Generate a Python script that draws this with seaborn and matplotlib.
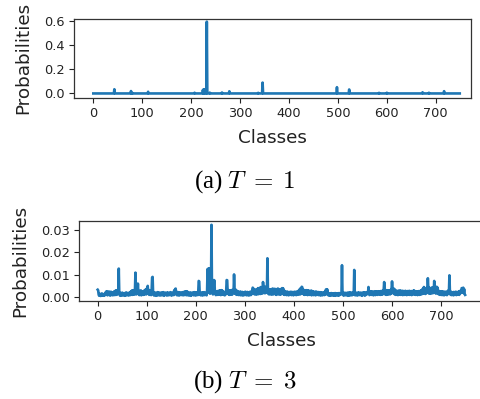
import numpy as np
import pandas as pd
import matplotlib
matplotlib.use("Agg")
import matplotlib.pyplot as plt
import seaborn as sns

# ---------------- data ----------------
n_classes = 750

# T = 1 : essentially zero everywhere except a few classes
t1_baseline = 0.0002
t1_peak_classes = [43, 77, 80, 112, 207, 224, 226, 228, 232, 238, 263, 278,
                   337, 346, 498, 523, 584, 600, 673, 686, 717]
t1_peak_values = [0.035, 0.02, 0.004, 0.014, 0.006, 0.03, 0.033, 0.035, 0.595,
                  0.007, 0.008, 0.018, 0.005, 0.09, 0.052, 0.033, 0.005, 0.006,
                  0.01, 0.006, 0.019]

# T = 3 : probabilities in units of 1e-4, class 0 .. 749
t3_probs_e4 = [
    33, 30, 12, 6, 15, 9, 5, 14, 8, 16, 7, 12, 10, 6, 15, 9, 18, 24, 11, 26, 8, 22, 12, 25, 9,
    20, 7, 24, 10, 14, 18, 8, 22, 11, 26, 9, 28, 13, 30, 10, 29, 16, 21, 127, 14, 8, 19, 6, 17, 10,
    20, 7, 15, 11, 18, 6, 16, 9, 21, 8, 14, 12, 19, 7, 17, 10, 22, 9, 26, 12, 30, 10, 28, 14, 31,
    11, 29, 109, 30, 12, 58, 25, 60, 14, 28, 9, 24, 12, 30, 8, 26, 13, 22, 10, 27, 11, 31, 15, 34, 12,
    38, 20, 50, 16, 32, 10, 28, 14, 30, 9, 26, 88, 90, 13, 21, 7, 18, 10, 20, 6, 17, 9, 22, 8, 19,
    11, 20, 7, 16, 10, 21, 8, 18, 12, 22, 6, 15, 9, 20, 11, 17, 7, 21, 10, 19, 8, 16, 12, 22, 9,
    18, 7, 20, 11, 16, 9, 30, 14, 36, 38, 12, 24, 8, 20, 10, 22, 7, 18, 11, 21, 9, 17, 12, 22, 8,
    19, 10, 25, 9, 23, 12, 26, 8, 24, 11, 20, 7, 18, 10, 21, 6, 17, 9, 20, 12, 19, 8, 22, 10, 18,
    7, 21, 11, 19, 9, 22, 72, 70, 12, 20, 8, 18, 10, 21, 7, 19, 11, 22, 9, 17, 12, 20, 8, 24, 125,
    20, 127, 28, 128, 15, 30, 24, 322, 18, 30, 12, 26, 76, 74, 14, 25, 9, 22, 11, 27, 10, 24, 13, 30, 12,
    28, 9, 31, 14, 29, 11, 26, 10, 20, 8, 22, 12, 30, 76, 75, 16, 31, 12, 28, 10, 30, 14, 27, 11, 32,
    13, 30, 20, 101, 35, 15, 34, 12, 30, 10, 26, 14, 24, 9, 22, 11, 25, 8, 21, 12, 23, 7, 20, 10, 22,
    9, 24, 11, 21, 8, 23, 12, 20, 7, 22, 10, 24, 9, 21, 13, 30, 42, 40, 15, 31, 12, 34, 14, 30, 11,
    36, 15, 40, 13, 38, 16, 42, 14, 45, 18, 43, 16, 67, 45, 20, 44, 17, 46, 22, 45, 19, 173, 36, 14, 33,
    12, 35, 15, 32, 11, 36, 14, 38, 12, 34, 16, 37, 13, 35, 10, 33, 15, 38, 12, 36, 14, 32, 11, 35, 13,
    38, 40, 16, 39, 12, 30, 10, 24, 11, 22, 9, 25, 12, 21, 8, 23, 10, 22, 13, 24, 9, 21, 11, 23, 8,
    22, 12, 24, 10, 21, 9, 25, 13, 22, 11, 30, 14, 36, 12, 40, 18, 46, 44, 15, 34, 12, 30, 10, 28, 13,
    31, 11, 27, 9, 30, 14, 28, 10, 26, 12, 29, 8, 27, 11, 25, 9, 24, 12, 22, 8, 25, 10, 21, 13, 23,
    9, 20, 12, 22, 7, 19, 10, 21, 8, 18, 11, 20, 9, 24, 12, 33, 35, 14, 34, 10, 18, 7, 16, 9, 17,
    6, 18, 10, 15, 8, 17, 7, 16, 9, 18, 6, 15, 10, 17, 8, 16, 7, 18, 9, 15, 11, 17, 20, 142, 18,
    9, 20, 7, 18, 11, 19, 8, 17, 10, 20, 6, 18, 9, 21, 7, 19, 12, 20, 8, 18, 10, 22, 14, 121, 16,
    8, 20, 11, 18, 7, 19, 10, 21, 9, 17, 12, 20, 8, 18, 6, 19, 11, 21, 9, 20, 7, 18, 10, 22, 13,
    20, 16, 45, 18, 9, 24, 11, 26, 10, 23, 12, 25, 8, 22, 13, 26, 9, 24, 11, 25, 10, 23, 14, 26, 12,
    24, 10, 27, 13, 25, 11, 30, 14, 32, 67, 30, 12, 29, 10, 31, 13, 28, 11, 30, 15, 27, 12, 32, 16, 35,
    70, 40, 18, 38, 14, 36, 12, 30, 10, 28, 13, 26, 9, 29, 11, 27, 14, 30, 10, 26, 12, 28, 9, 27, 13,
    25, 10, 28, 12, 26, 9, 27, 14, 24, 11, 28, 10, 25, 13, 27, 9, 26, 12, 28, 14, 30, 11, 24, 10, 26,
    13, 25, 9, 24, 12, 27, 10, 26, 14, 30, 12, 32, 15, 38, 16, 45, 20, 40, 14, 36, 18, 42, 20, 84, 40,
    16, 42, 18, 40, 15, 38, 20, 44, 17, 40, 22, 72, 45, 18, 44, 16, 46, 20, 42, 14, 28, 12, 25, 10, 24,
    13, 26, 9, 25, 11, 23, 8, 24, 12, 22, 10, 25, 9, 21, 14, 30, 20, 97, 22, 11, 24, 9, 22, 12, 20,
    8, 23, 10, 21, 13, 24, 9, 22, 11, 20, 14, 26, 10, 24, 16, 30, 20, 40, 38, 22, 42, 18, 36, 14, 10,
]

x_ticks = [0, 100, 200, 300, 400, 500, 600, 700]
t1_y_ticks = [0.0, 0.2, 0.4, 0.6]
t3_y_ticks = [0.00, 0.01, 0.02, 0.03]
captions = [r"(a) $T\;=\;1$", r"(b) $T\;=\;3$"]

# ---------------- build tables ----------------
classes = np.arange(n_classes)
t1 = np.full(n_classes, t1_baseline)
t1[t1_peak_classes] = t1_peak_values
t3 = np.array(t3_probs_e4, dtype=float) * 1e-4

df1 = pd.DataFrame({"Classes": classes, "Probabilities": t1})
df3 = pd.DataFrame({"Classes": classes, "Probabilities": t3})

# ---------------- figure ----------------
plt.style.use("default")
plt.rcParams["mathtext.fontset"] = "cm"
W, H = 481, 399
fig = plt.figure(figsize=(W / 100, H / 100), dpi=100)

line_color = "#1f77b4"
tick_fs = 9.3
label_fs = 13.2

def style_axes(ax, yticks, yfmt):
    ax.set_xticks(x_ticks)
    ax.set_yticks(yticks)
    ax.set_yticklabels([yfmt.format(v) for v in yticks])
    ax.tick_params(labelsize=tick_fs, colors="#222222", length=3.5, width=0.8)
    ax.set_xlabel("Classes", fontsize=label_fs, color="#222222", labelpad=6)
    ax.set_ylabel("Probabilities", fontsize=label_fs, color="#222222", labelpad=8)
    for s in ax.spines.values():
        s.set_color("#333333")
        s.set_linewidth(0.9)

# top axes (T = 1)
ax1 = fig.add_axes([74 / W, 1 - 97.7 / H, (471 - 74) / W, (97.7 - 19) / H])
sns.lineplot(data=df1, x="Classes", y="Probabilities", ax=ax1, color=line_color,
             linewidth=1.9, estimator=None)
ax1.set_xlim(-39.5, 772)
ax1.set_ylim(-0.035, 0.617)
style_axes(ax1, t1_y_ticks, "{:.1f}")

# bottom axes (T = 3)
ax3 = fig.add_axes([79.3 / W, 1 - 300.7 / H, 404.2 / W, (300.7 - 221) / H])
sns.lineplot(data=df3, x="Classes", y="Probabilities", ax=ax3, color=line_color,
             linewidth=1.9, estimator=None)
ax3.set_xlim(-37.45, 786.45)
ax3.set_ylim(-0.0016, 0.0339)
style_axes(ax3, t3_y_ticks, "{:.2f}")

# captions
fig.text(245 / W, 1 - 182 / H, captions[0], ha="center", va="center",
         fontsize=18, family="Liberation Serif", color="black")
fig.text(245 / W, 1 - 382 / H, captions[1], ha="center", va="center",
         fontsize=18, family="Liberation Serif", color="black")

fig.savefig("out.png", dpi=100)
